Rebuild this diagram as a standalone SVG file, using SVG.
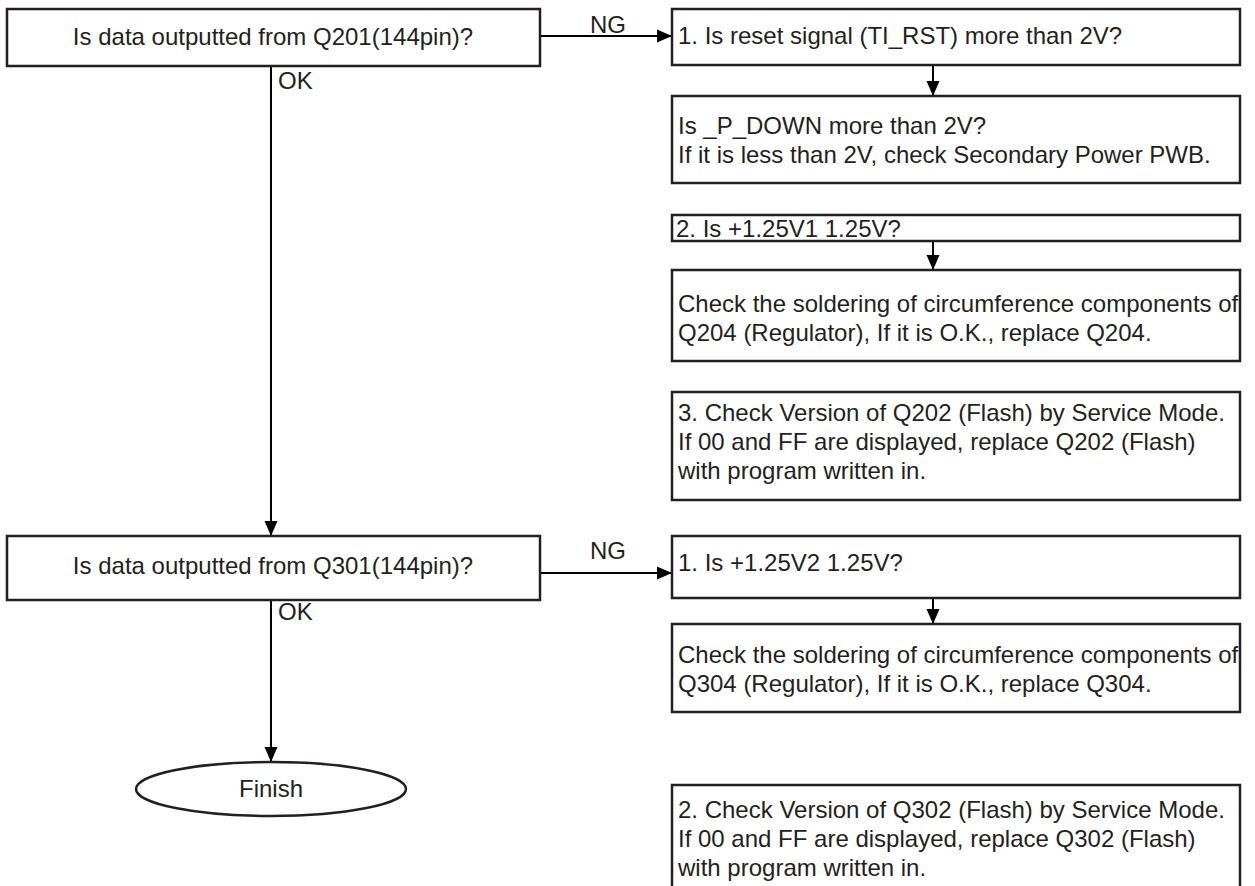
<svg xmlns="http://www.w3.org/2000/svg" width="1255" height="886" viewBox="0 0 1255 886">
<defs>
<marker id="ah" markerWidth="20" markerHeight="16" refX="15" refY="7" orient="auto" markerUnits="userSpaceOnUse">
<path d="M0,0.5 L15,7 L0,13.5 Z" fill="#000"/>
</marker>
<style>
.box{fill:#fff;stroke:#231f20;stroke-width:2.5}
.t{font-family:"Liberation Sans",Arial,Helvetica,sans-serif;font-size:24px;fill:#231f20}
.c{text-anchor:middle}
.ln{stroke:#000;stroke-width:2;fill:none}
</style>
</defs>
<rect width="1255" height="886" fill="#fff"/>
<g id="connectors">
<path class="ln" d="M271,66 V536" marker-end="url(#ah)"/>
<path class="ln" d="M540,36 H672" marker-end="url(#ah)"/>
<path class="ln" d="M933,65 V96" marker-end="url(#ah)"/>
<path class="ln" d="M933,241 V270" marker-end="url(#ah)"/>
<path class="ln" d="M540,573 H672" marker-end="url(#ah)"/>
<path class="ln" d="M933,598 V624" marker-end="url(#ah)"/>
<path class="ln" d="M271,600 V762" marker-end="url(#ah)"/>
<text class="t" x="590" y="33">NG</text>
<text class="t" x="278" y="89">OK</text>
<text class="t" x="590" y="559">NG</text>
<text class="t" x="278" y="620">OK</text>
</g>
<g id="q201">
<rect class="box" x="7" y="9" width="533" height="57"/>
<text class="t c" x="273" y="45">Is data outputted from Q201(144pin)?</text>
</g>
<g id="r1">
<rect class="box" x="672" y="9" width="568" height="56"/>
<text class="t" x="678" y="44">1. Is reset signal (TI_RST) more than 2V?</text>
</g>
<g id="r2">
<rect class="box" x="672" y="96" width="568" height="87"/>
<text class="t" x="678" y="134">Is _P_DOWN more than 2V?</text>
<text class="t" x="678" y="163">If it is less than 2V, check Secondary Power PWB.</text>
</g>
<g id="r3">
<rect class="box" x="672" y="215" width="568" height="26"/>
<text class="t" x="676" y="237">2. Is +1.25V1 1.25V?</text>
</g>
<g id="r4">
<rect class="box" x="672" y="270" width="568" height="91"/>
<text class="t" x="678" y="312">Check the soldering of circumference components of</text>
<text class="t" x="678" y="341">Q204 (Regulator), If it is O.K., replace Q204.</text>
</g>
<g id="r5">
<rect class="box" x="672" y="392" width="568" height="108"/>
<text class="t" x="678" y="421">3. Check Version of Q202 (Flash) by Service Mode.</text>
<text class="t" x="678" y="450">If 00 and FF are displayed, replace Q202 (Flash)</text>
<text class="t" x="678" y="479">with program written in.</text>
</g>
<g id="q301">
<rect class="box" x="7" y="536" width="533" height="64"/>
<text class="t c" x="273" y="574">Is data outputted from Q301(144pin)?</text>
</g>
<g id="r6">
<rect class="box" x="672" y="536" width="568" height="62"/>
<text class="t" x="678" y="571">1. Is +1.25V2 1.25V?</text>
</g>
<g id="r7">
<rect class="box" x="672" y="624" width="568" height="88"/>
<text class="t" x="678" y="663">Check the soldering of circumference components of</text>
<text class="t" x="678" y="692">Q304 (Regulator), If it is O.K., replace Q304.</text>
</g>
<g id="finish">
<ellipse class="box" cx="271" cy="789" rx="135" ry="27"/>
<text class="t c" x="271" y="797">Finish</text>
</g>
<g id="r8">
<path class="box" d="M672,888 V785 H1240 V888"/>
<text class="t" x="678" y="818">2. Check Version of Q302 (Flash) by Service Mode.</text>
<text class="t" x="678" y="847">If 00 and FF are displayed, replace Q302 (Flash)</text>
<text class="t" x="678" y="876">with program written in.</text>
</g>
</svg>
